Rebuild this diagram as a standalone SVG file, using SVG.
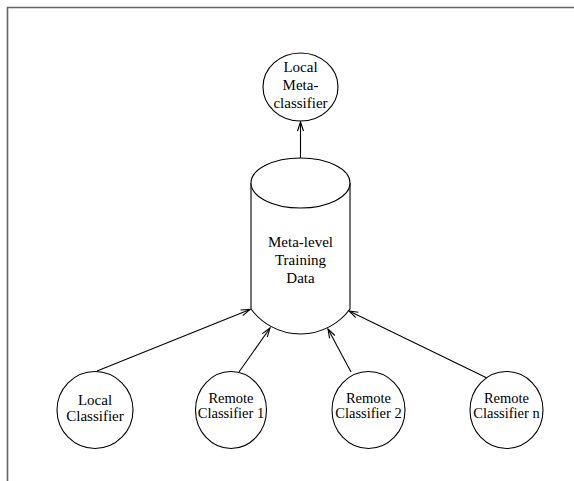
<svg xmlns="http://www.w3.org/2000/svg" width="574" height="481" viewBox="0 0 574 481">
<style>
.n{fill:#fff;stroke:#000;stroke-width:1.1}
.t{font-family:"Liberation Serif","Times New Roman",serif;font-size:15px;fill:#000;text-anchor:middle}
.r{font-size:14.5px}
.c{stroke:#000;stroke-width:1.1;fill:none;marker-end:url(#ah)}
.b{stroke:#666;stroke-width:1.6;fill:none}
</style>
<defs>
<marker id="ah" markerUnits="userSpaceOnUse" markerWidth="12" markerHeight="10" viewBox="-10 -5 12 10" refX="0" refY="0" orient="auto">
<path d="M-9,-3 L0,0 L-9,3" fill="none" stroke="#000" stroke-width="1.1"/>
</marker>
</defs>
<rect width="574" height="481" fill="#fff"/>
<path class="b" d="M7.5,481 L7.5,7.5 L574,7.5"/>
<g id="local-meta-classifier">
<ellipse class="n" cx="300.5" cy="87" rx="37.5" ry="34"/>
<text class="t" x="300.5" y="72">Local</text>
<text class="t" x="300.5" y="90">Meta-</text>
<text class="t" x="300.5" y="108">classifier</text>
</g>
<g id="meta-level-training-data">
<path class="n" d="M251,183 A49.5,25 0 0 1 350,183 L350,309 A61.5,61.5 0 0 1 251,309 Z"/>
<path class="n" fill="none" d="M251,183 A49.5,25 0 0 0 350,183"/>
<text class="t" x="300.5" y="247">Meta-level</text>
<text class="t" x="300.5" y="265">Training</text>
<text class="t" x="300.5" y="283">Data</text>
</g>
<g id="local-classifier">
<ellipse class="n" cx="95" cy="410" rx="38" ry="38.5"/>
<text class="t" x="95" y="405">Local</text>
<text class="t" x="95" y="421">Classifier</text>
</g>
<g id="remote-classifier-1">
<ellipse class="n" cx="231" cy="410" rx="35.5" ry="38.5"/>
<text class="t r" x="231" y="403">Remote</text>
<text class="t r" x="231" y="418">Classifier 1</text>
</g>
<g id="remote-classifier-2">
<ellipse class="n" cx="368.5" cy="410" rx="36.5" ry="38.5"/>
<text class="t r" x="368.5" y="403">Remote</text>
<text class="t r" x="368.5" y="418">Classifier 2</text>
</g>
<g id="remote-classifier-n">
<ellipse class="n" cx="506.5" cy="410" rx="36.5" ry="38.5"/>
<text class="t r" x="506.5" y="403">Remote</text>
<text class="t r" x="506.5" y="418">Classifier n</text>
</g>
<g id="connectors">
<line class="c" x1="300.5" y1="158" x2="300.5" y2="122"/>
<line class="c" x1="97" y1="371" x2="250" y2="309.5"/>
<line class="c" x1="239" y1="372" x2="270" y2="328"/>
<line class="c" x1="351" y1="372" x2="328" y2="329"/>
<line class="c" x1="487" y1="378" x2="349" y2="311"/>
</g>
</svg>
